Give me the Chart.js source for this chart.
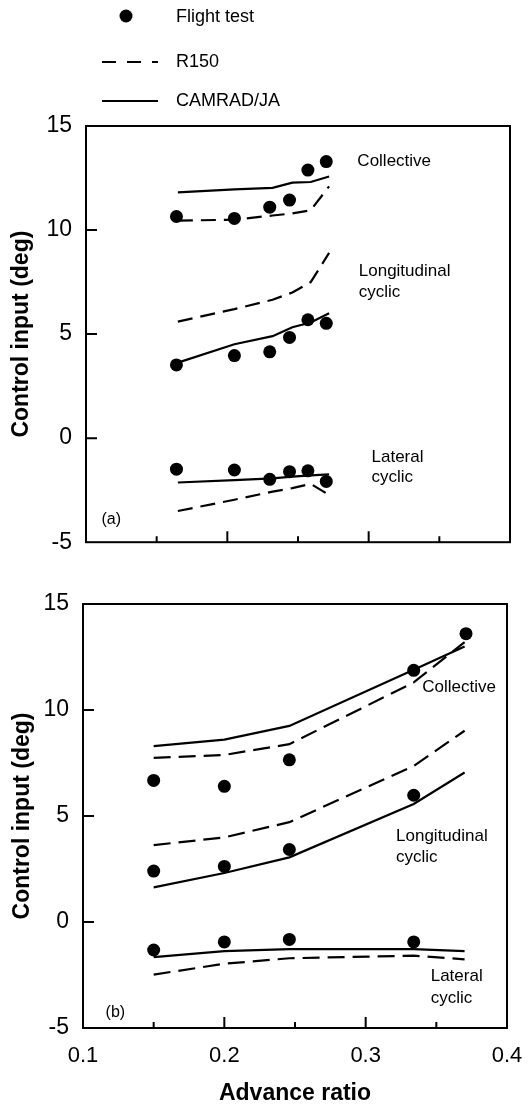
<!DOCTYPE html>
<html lang="en">
<head>
<meta charset="UTF-8">
<title>Control input vs advance ratio</title>
<script src="https://cdn.jsdelivr.net/npm/chart.js"></script>
<style>
  body { margin: 0; background: #fff; }
  .wrap { position: relative; width: 530px; height: 1107px; }
  canvas { position: absolute; left: 0; }
  #chartA { top: 0; }
  #chartB { top: 570px; }
</style>
</head>
<body>
<div class="wrap">
  <canvas id="chartA" width="530" height="570"></canvas>
  <canvas id="chartB" width="530" height="537"></canvas>
</div>
<script>
// ---- data, panel (a) ----
const muTestA     = [0.164, 0.205, 0.230, 0.244, 0.257, 0.270];
const collTestA   = [10.65, 10.56, 11.10, 11.44, 12.88, 13.29];
const longTestA   = [3.52, 3.97, 4.15, 4.84, 5.69, 5.52];
const latTestA    = [-1.49, -1.53, -1.98, -1.61, -1.57, -2.08];
const muCalcA     = [0.165, 0.205, 0.232, 0.246, 0.259, 0.272];
const collR150A   = [10.45, 10.50, 10.70, 10.80, 10.95, 12.10];
const longR150A   = [5.60, 6.20, 6.65, 7.00, 7.50, 8.90];
const latR150A    = [-3.50, -2.96, -2.57, -2.40, -2.20, -2.73];
const collCamradA = [11.81, 11.95, 12.03, 12.28, 12.31, 12.57];
const longCamradA = [3.63, 4.51, 4.90, 5.33, 5.56, 6.00];
const latCamradA  = [-2.13, -2.02, -1.93, -1.85, -1.79, -1.74];

// ---- data, panel (b) ----
const muTestB     = [0.150, 0.200, 0.246, 0.334, 0.371];
const collTestB   = [6.68, 6.40, 7.65, 11.87, 13.60];
const longTestB   = [2.40, 2.62, 3.42, 5.98, null];
const latTestB    = [-1.32, -0.94, -0.82, -0.94, null];
const muCalcB     = [0.150, 0.200, 0.246, 0.334, 0.370];
const collR150B   = [7.74, 7.88, 8.39, 11.30, 13.20];
const longR150B   = [3.63, 3.99, 4.71, 7.36, 9.02];
const latR150B    = [-2.48, -1.97, -1.71, -1.59, -1.76];
const collCamradB = [8.30, 8.60, 9.25, 11.90, 13.00];
const longCamradB = [1.63, 2.31, 3.05, 5.57, 7.05];
const latCamradB  = [-1.66, -1.37, -1.28, -1.28, -1.37];

// ---- axes / labels ----
const yTicks = [-5, 0, 5, 10, 15];
const xTicks = [0.1, 0.2, 0.3, 0.4];
const seriesNames = ['Flight test', 'R150', 'CAMRAD/JA'];

const FONT = "'Liberation Sans', Arial, Helvetica, sans-serif";

function pts(xs, ys) {
  return xs.map((x, i) => ({ x: x, y: ys[i] })).filter(p => p.y !== null);
}

function testSet(xs, ys) {
  return { label: seriesNames[0], data: pts(xs, ys), showLine: false,
    pointRadius: 6.5, pointBackgroundColor: '#000', pointBorderWidth: 0 };
}

function calcSet(name, xs, ys, dash) {
  return { label: name, data: pts(xs, ys), showLine: true, tension: 0,
    borderColor: '#000', borderWidth: 2.2, borderDash: dash, pointRadius: 0 };
}

// box, inward ticks and text notes
function makeFrame(notes) {
  return {
    id: 'frame',
    afterDatasetsDraw(chart) {
      const { ctx, chartArea: a, scales: { x, y } } = chart;
      ctx.save();
      ctx.strokeStyle = '#000';
      ctx.lineWidth = 2;
      ctx.strokeRect(a.left, a.top, a.right - a.left, a.bottom - a.top);
      ctx.beginPath();
      y.ticks.forEach(t => {
        if (t.value > y.min && t.value < y.max) {
          const py = y.getPixelForValue(t.value);
          ctx.moveTo(a.left, py);
          ctx.lineTo(a.left + 11, py);
        }
      });
      x.ticks.forEach(t => {
        if (t.value > x.min + 1e-6 && t.value < x.max - 1e-6) {
          const px = x.getPixelForValue(t.value);
          const major = Math.round(t.value * 100) % 10 === 0;
          ctx.moveTo(px, a.bottom);
          ctx.lineTo(px, a.bottom - (major ? 11 : 6));
        }
      });
      ctx.stroke();
      ctx.fillStyle = '#000';
      ctx.textAlign = 'left';
      ctx.textBaseline = 'middle';
      notes.forEach(n => {
        ctx.font = (n.size || 17) + 'px ' + FONT;
        ctx.fillText(n.text, x.getPixelForValue(n.x), y.getPixelForValue(n.y));
      });
      ctx.restore();
    }
  };
}

// legend at the top of panel (a)
const legendPlugin = {
  id: 'topLegend',
  afterDraw(chart) {
    const ctx = chart.ctx;
    ctx.save();
    ctx.fillStyle = '#000';
    ctx.strokeStyle = '#000';
    ctx.beginPath();
    ctx.arc(126, 16, 6.5, 0, Math.PI * 2);
    ctx.fill();
    ctx.lineWidth = 2.2;
    ctx.setLineDash([14, 11]);
    ctx.beginPath();
    ctx.moveTo(102, 62);
    ctx.lineTo(158, 62);
    ctx.stroke();
    ctx.setLineDash([]);
    ctx.beginPath();
    ctx.moveTo(102, 101);
    ctx.lineTo(158, 101);
    ctx.stroke();
    ctx.font = '18px ' + FONT;
    ctx.textBaseline = 'middle';
    ctx.fillText(seriesNames[0], 176, 17);
    ctx.fillText(seriesNames[1], 176, 62);
    ctx.fillText(seriesNames[2], 176, 101);
    ctx.restore();
  }
};

function yScale(width, titleSize, titlePad) {
  return {
    type: 'linear', min: yTicks[0], max: yTicks[yTicks.length - 1],
    ticks: { stepSize: 5, color: '#000', padding: 14, font: { family: FONT, size: 23 } },
    grid: { display: false, drawTicks: false },
    border: { display: false },
    title: { display: true, text: 'Control input (deg)', color: '#000',
      padding: { top: titlePad, bottom: 0 },
      font: { family: FONT, size: titleSize, weight: 'bold' } },
    afterFit(s) { s.width = width; }
  };
}

function xScale(showLabels, height) {
  return {
    type: 'linear', min: xTicks[0], max: xTicks[xTicks.length - 1],
    ticks: {
      display: showLabels, stepSize: 0.05, autoSkip: false, maxRotation: 0,
      color: '#000', padding: 15, font: { family: FONT, size: 22 },
      callback(v) {
        const k = Math.round(v * 100);
        return k % 10 === 0 ? (k / 100).toFixed(1) : '';
      }
    },
    grid: { display: false, drawTicks: false },
    border: { display: false },
    title: { display: showLabels, text: 'Advance ratio', color: '#000',
      padding: { top: 0, bottom: 0 },
      font: { family: FONT, size: 23, weight: 'bold' } },
    afterFit(s) {
      s.height = height;
      // labels may overhang the plot box; keep the box where it is
      s.paddingLeft = 0;
      s.paddingRight = 0;
    }
  };
}

function makeChart(id, datasets, padding, yOpts, xOpts, plugins) {
  return new Chart(document.getElementById(id), {
    type: 'scatter',
    data: { datasets: datasets },
    options: {
      responsive: false,
      animation: false,
      events: [],
      layout: { padding: padding },
      plugins: { legend: { display: false }, tooltip: { enabled: false } },
      scales: { x: xOpts, y: yOpts }
    },
    plugins: plugins
  });
}

const dashA = [15, 8];
const dashB = [17, 8];

makeChart('chartA', [
  testSet(muTestA, collTestA),
  testSet(muTestA, longTestA),
  testSet(muTestA, latTestA),
  calcSet(seriesNames[1], muCalcA, collR150A, dashA),
  calcSet(seriesNames[1], muCalcA, longR150A, dashA),
  calcSet(seriesNames[1], muCalcA, latR150A, dashA),
  calcSet(seriesNames[2], muCalcA, collCamradA, []),
  calcSet(seriesNames[2], muCalcA, longCamradA, []),
  calcSet(seriesNames[2], muCalcA, latCamradA, [])
], { top: 126, right: 20, bottom: 15, left: 0 },
  yScale(86, 23, 8), xScale(false, 0),
  [makeFrame([
    { text: 'Collective', x: 0.292, y: 13.31 },
    { text: 'Longitudinal', x: 0.293, y: 8.0 },
    { text: 'cyclic', x: 0.293, y: 7.0 },
    { text: 'Lateral', x: 0.302, y: -0.93 },
    { text: 'cyclic', x: 0.302, y: -1.9 },
    { text: '(a)', x: 0.111, y: -3.92, size: 16 }
  ]), legendPlugin]);

makeChart('chartB', [
  testSet(muTestB, collTestB),
  testSet(muTestB, longTestB),
  testSet(muTestB, latTestB),
  calcSet(seriesNames[1], muCalcB, collR150B, dashB),
  calcSet(seriesNames[1], muCalcB, longR150B, dashB),
  calcSet(seriesNames[1], muCalcB, latR150B, dashB),
  calcSet(seriesNames[2], muCalcB, collCamradB, []),
  calcSet(seriesNames[2], muCalcB, longCamradB, []),
  calcSet(seriesNames[2], muCalcB, latCamradB, [])
], { top: 34, right: 23, bottom: 0, left: 0 },
  yScale(83, 23, 9), xScale(true, 79),
  [makeFrame([
    { text: 'Collective', x: 0.340, y: 11.08 },
    { text: 'Longitudinal', x: 0.3215, y: 4.06 },
    { text: 'cyclic', x: 0.3215, y: 3.07 },
    { text: 'Lateral', x: 0.346, y: -2.57 },
    { text: 'cyclic', x: 0.346, y: -3.6 },
    { text: '(b)', x: 0.116, y: -4.28, size: 16 }
  ])]);
</script>
</body>
</html>
